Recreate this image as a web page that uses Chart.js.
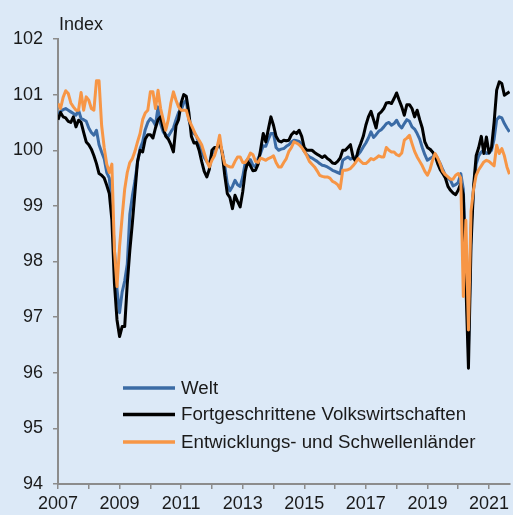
<!DOCTYPE html>
<html>
<head>
<meta charset="utf-8">
<script src="https://cdn.jsdelivr.net/npm/chart.js@4"></script>
<style>
  html, body { margin: 0; padding: 0; background: #dce9f7; }
  #wrap { width: 513px; height: 515px; }
</style>
</head>
<body>
<div id="wrap"><canvas id="myChart" width="513" height="515"></canvas></div>
<script>
'use strict';

// monthly values, Jan 2007 .. Sep 2021
var startYear = 2007;
var seriesNames = ['Welt', 'Fortgeschrittene Volkswirtschaften', 'Entwicklungs- und Schwellenländer'];
var seriesColors = ['#3b6ba5', '#000000', '#f79646'];

var welt = [
  100.65, 100.70, 100.73, 100.75, 100.72, 100.69, 100.66, 100.63, 100.72, 100.57, 100.55, 100.52,
  100.40, 100.32, 100.27, 100.36, 100.10, 99.97, 99.85, 99.60, 99.50, 99.00, 98.20, 97.50,
  97.08, 97.45, 97.65, 97.95, 98.85, 99.18, 99.45, 99.78, 100.03, 100.15, 100.37, 100.50,
  100.57, 100.53, 100.45, 100.78, 100.47, 100.33, 100.28, 100.25, 100.33, 100.40, 100.55, 100.68,
  100.72, 100.85, 100.90, 100.55, 100.38, 100.30, 100.25, 100.10, 99.98, 99.87, 99.80, 99.76,
  99.94, 99.97, 100.05, 100.12, 99.98, 99.72, 99.40, 99.27, 99.35, 99.46, 99.38, 99.35,
  99.52, 99.78, 99.84, 99.83, 99.73, 99.70, 99.85, 99.95, 100.08, 100.07, 100.20, 100.30,
  100.30, 100.05, 100.00, 100.02, 100.03, 100.07, 100.10, 100.15, 100.18, 100.17, 100.16, 100.10,
  99.98, 99.92, 99.88, 99.86, 99.83, 99.80, 99.76, 99.73, 99.72, 99.70, 99.67, 99.64,
  99.62, 99.60, 99.58, 99.82, 99.85, 99.88, 99.84, 99.86, 99.88, 99.92, 99.98, 100.06,
  100.13, 100.22, 100.33, 100.23, 100.28, 100.34, 100.37, 100.42, 100.48, 100.50, 100.45, 100.48,
  100.54, 100.45, 100.40, 100.48, 100.55, 100.52, 100.42, 100.38, 100.30, 100.20, 100.05, 99.92,
  99.82, 99.85, 99.88, 99.93, 99.85, 99.76, 99.65, 99.55, 99.50, 99.46, 99.36, 99.38,
  99.42, 99.58, 99.30, 97.90, 96.45, 98.60, 99.30, 99.75, 99.90, 99.97, 100.00, 99.94,
  99.95, 100.00, 100.20, 100.55, 100.60, 100.58, 100.48, 100.40, 100.33
];

var fortgeschritten = [
  100.55, 100.68, 100.60, 100.58, 100.52, 100.50, 100.60, 100.42, 100.54, 100.50, 100.32, 100.15,
  100.10, 100.02, 99.90, 99.76, 99.58, 99.55, 99.50, 99.37, 99.22, 98.75, 97.60, 96.95,
  96.65, 96.83, 96.83, 97.60, 98.20, 98.70, 99.25, 99.80, 100.00, 99.97, 100.20, 100.28,
  100.28, 100.22, 100.40, 100.55, 100.60, 100.40, 100.25, 100.20, 100.10, 99.97, 100.44, 100.55,
  100.85, 101.00, 100.97, 100.68, 100.25, 100.13, 100.14, 100.00, 99.80, 99.62, 99.52, 99.66,
  100.00, 100.05, 100.05, 100.15, 99.95, 99.55, 99.22, 99.15, 98.95, 99.19, 99.08, 98.98,
  99.25, 99.62, 99.80, 99.72, 99.63, 99.64, 99.75, 100.02, 100.30, 100.15, 100.38, 100.60,
  100.45, 100.25, 100.17, 100.15, 100.18, 100.17, 100.18, 100.28, 100.33, 100.30, 100.36, 100.25,
  100.05, 100.00, 100.00, 100.00, 99.96, 99.93, 99.90, 99.87, 99.90, 99.85, 99.82, 99.77,
  99.76, 99.80, 99.86, 100.00, 100.00, 100.05, 100.10, 99.88, 99.80, 100.00, 100.12, 100.25,
  100.45, 100.60, 100.70, 100.55, 100.40, 100.65, 100.69, 100.75, 100.85, 100.86, 100.84, 100.93,
  101.03, 100.90, 100.78, 100.63, 100.82, 100.82, 100.75, 100.60, 100.72, 100.55, 100.40, 100.15,
  100.05, 100.02, 99.97, 99.90, 99.76, 99.65, 99.58, 99.50, 99.35, 99.28, 99.23, 99.20,
  99.28, 99.40, 99.20, 97.60, 96.08, 98.30, 99.35, 99.90, 100.05, 100.25, 99.94, 100.24,
  99.95, 100.05, 100.50, 101.08, 101.23, 101.20, 100.99, 101.02, 101.05
];

var schwellen = [
  100.84, 100.75, 100.95, 101.07, 101.02, 100.85, 100.78, 100.72, 100.72, 101.04, 100.72, 100.96,
  100.90, 100.75, 100.72, 101.25, 101.25, 100.45, 100.05, 99.75, 99.60, 99.75, 98.20, 97.55,
  98.27, 98.80, 99.30, 99.60, 99.78, 99.85, 99.98, 100.15, 100.30, 100.55, 100.67, 100.72,
  101.05, 101.05, 100.75, 101.08, 100.75, 100.55, 100.36, 100.55, 100.85, 101.05, 100.90, 100.78,
  100.72, 100.72, 100.72, 100.55, 100.45, 100.35, 100.25, 100.18, 100.10, 99.95, 99.80, 99.70,
  99.82, 99.90, 100.05, 100.27, 99.95, 99.75, 99.72, 99.70, 99.70, 99.80, 99.88, 99.88,
  99.78, 99.78, 99.85, 99.95, 99.92, 99.80, 99.78, 99.86, 99.84, 99.82, 99.85, 99.87,
  99.90, 99.78, 99.70, 99.70, 99.78, 99.85, 99.98, 100.05, 100.15, 100.13, 100.10, 100.05,
  99.98, 99.90, 99.80, 99.75, 99.70, 99.63, 99.55, 99.53, 99.52, 99.52, 99.50, 99.44,
  99.42, 99.38, 99.31, 99.64, 99.64, 99.65, 99.67, 99.72, 99.78, 99.85, 99.80, 99.76,
  99.76, 99.80, 99.85, 99.83, 99.86, 99.90, 99.88, 99.88, 100.05, 100.00, 99.97, 99.97,
  99.92, 99.90, 99.95, 100.18, 100.22, 100.27, 100.12, 99.98, 99.88, 99.80, 99.72, 99.62,
  99.55, 99.65, 99.82, 99.94, 99.86, 99.75, 99.62, 99.56, 99.52, 99.48, 99.48, 99.55,
  99.58, 99.50, 97.37, 98.74, 96.77, 98.90, 99.30, 99.55, 99.65, 99.72, 99.79, 99.82,
  99.80, 99.76, 99.72, 100.09, 99.94, 100.03, 99.90, 99.70, 99.57
];

var yTicks = [94, 95, 96, 97, 98, 99, 100, 101, 102];
var xMin = 2007;
var xMax = 2021.68;

var months = [];
for (var i = 0; i < welt.length; i++) {
    months.push(startYear + i / 12);
}

var fontFamily = "'Liberation Sans', Arial, sans-serif";
var axisGray = '#8c8c8c';
var textColor = '#1a1a1a';

// background + "Index" + legend inside the plot
var extrasPlugin = {
    id: 'extras',
    beforeDraw: function (chart) {
        var ctx = chart.ctx;
        ctx.save();
        ctx.fillStyle = '#dce9f7';
        ctx.fillRect(0, 0, chart.width, chart.height);
        ctx.restore();
    },
    afterDraw: function (chart) {
        var ctx = chart.ctx;
        ctx.save();
        ctx.fillStyle = textColor;
        ctx.font = '18px ' + fontFamily;
        ctx.textBaseline = 'alphabetic';
        ctx.textAlign = 'left';
        ctx.fillText('Index', 59, 30);

        var legendY = [388, 414.5, 442];
        for (var k = 0; k < seriesNames.length; k++) {
            ctx.strokeStyle = seriesColors[k];
            ctx.lineWidth = 3.5;
            ctx.beginPath();
            ctx.moveTo(123, legendY[k]);
            ctx.lineTo(175, legendY[k]);
            ctx.stroke();

            ctx.save();
            ctx.translate(181, legendY[k] + 1);
            ctx.scale(1.04, 1);
            ctx.fillStyle = textColor;
            ctx.textBaseline = 'middle';
            ctx.fillText(seriesNames[k], 0, 0);
            ctx.restore();
        }
        ctx.restore();
    }
};

var ctx = document.getElementById('myChart').getContext('2d');
var chart = new Chart(ctx, {
    type: 'line',
    data: {
        labels: months,
        datasets: [{
            label: seriesNames[0],
            data: welt,
            borderColor: seriesColors[0],
            borderWidth: 3,
            order: 2
        },
        {
            label: seriesNames[1],
            data: fortgeschritten,
            borderColor: seriesColors[1],
            borderWidth: 3,
            order: 1
        },
        {
            label: seriesNames[2],
            data: schwellen,
            borderColor: seriesColors[2],
            borderWidth: 3,
            order: 0
        }]
    },
    options: {
        responsive: false,
        animation: false,
        devicePixelRatio: 1,
        elements: {
            point: { radius: 0 },
            line: { tension: 0, borderJoinStyle: 'round' }
        },
        layout: { padding: { top: 39, right: 0, left: 0, bottom: 0 } },
        plugins: {
            legend: { display: false },
            tooltip: { enabled: false }
        },
        scales: {
            x: {
                type: 'linear',
                min: xMin,
                max: xMax,
                afterFit: function (scale) { scale.height = 31; },
                border: { color: axisGray, width: 2 },
                grid: { drawOnChartArea: false, color: axisGray, lineWidth: 1.5, tickLength: 5 },
                ticks: {
                    stepSize: 1,
                    includeBounds: false,
                    autoSkip: false,
                    maxRotation: 0,
                    padding: 4,
                    color: textColor,
                    font: { size: 18, family: fontFamily },
                    callback: function (value) {
                        return (Math.round(value) % 2 === 1) ? String(Math.round(value)) : '';
                    }
                }
            },
            y: {
                min: yTicks[0],
                max: yTicks[yTicks.length - 1],
                afterFit: function (scale) { scale.width = 58; },
                border: { color: axisGray, width: 2 },
                grid: { drawOnChartArea: false, color: axisGray, lineWidth: 1.5, tickLength: 5 },
                ticks: {
                    stepSize: 1,
                    padding: 10,
                    color: textColor,
                    font: { size: 18, family: fontFamily }
                }
            }
        }
    },
    plugins: [extrasPlugin]
});
</script>
</body>
</html>
